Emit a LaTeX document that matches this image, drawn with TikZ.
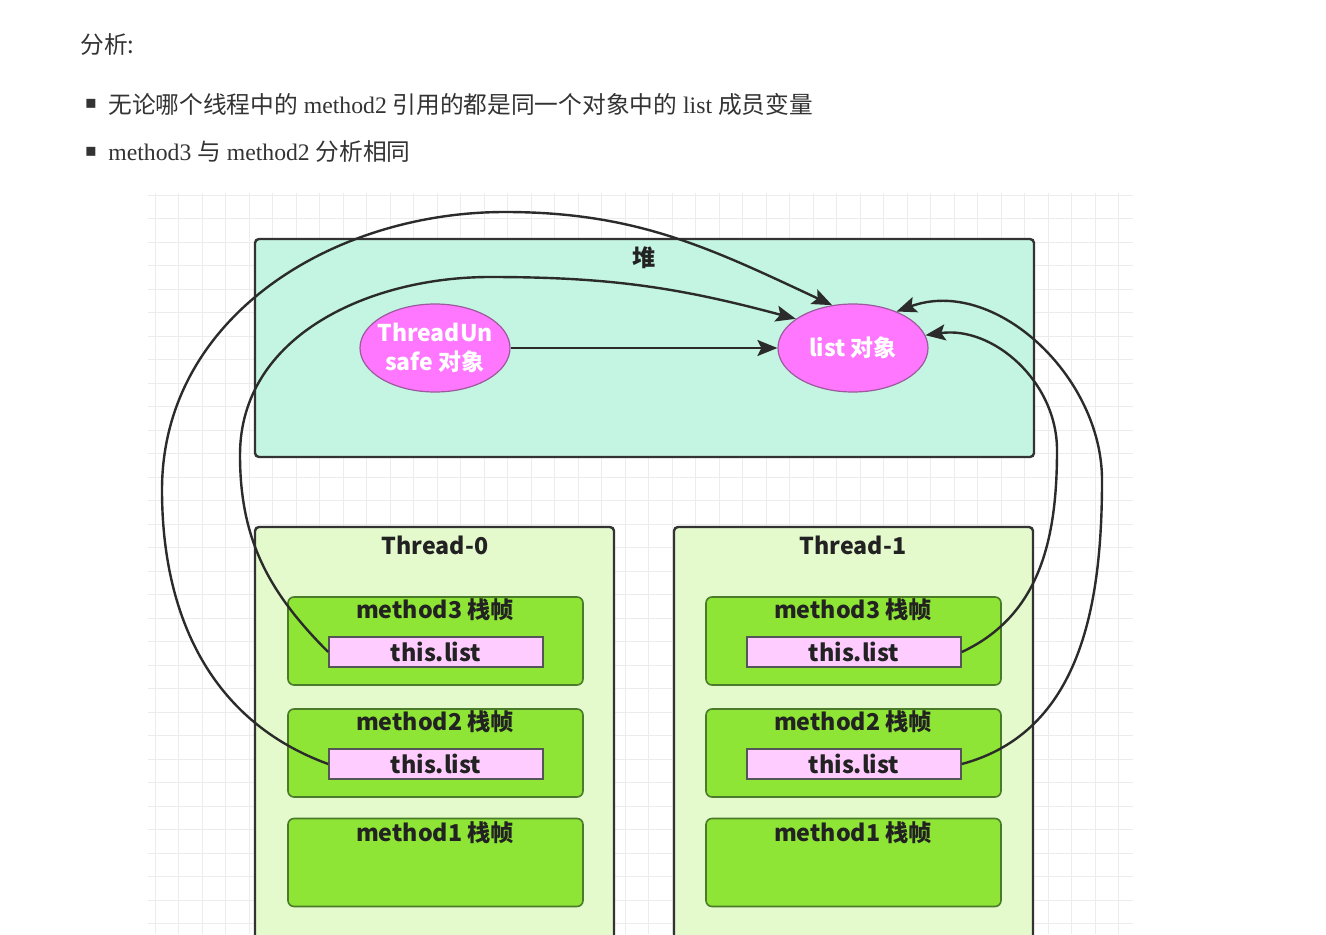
\documentclass[tikz,border=0pt]{standalone}
\usepackage{fontspec}
\setmainfont{Liberation Serif}
\newfontfamily\cjk{Noto Sans CJK SC}
\newfontfamily\symfont{DejaVu Sans}
\usetikzlibrary{positioning, arrows.meta, shapes.geometric}

\definecolor{linegray}{HTML}{2B2B2B}
\definecolor{gridgray}{HTML}{ECECEC}
\definecolor{boxline}{HTML}{333333}
\definecolor{heapfill}{HTML}{C4F5E2}
\definecolor{threadfill}{HTML}{E4F9CC}
\definecolor{framefill}{HTML}{8EE535}
\definecolor{frameline}{HTML}{4A7A2A}
\definecolor{fieldfill}{HTML}{FFCCFF}
\definecolor{fieldline}{HTML}{555555}
\definecolor{objfill}{HTML}{FF77FF}
\definecolor{objline}{HTML}{9B5A9B}
\definecolor{labeltext}{HTML}{222222}
\definecolor{headtext}{HTML}{333333}

\begin{document}
\begin{tikzpicture}[
    x=0.5pt, y=0.5pt,
    >={Stealth[length=10pt, width=8pt, inset=2pt]},
    ref/.style={->, line width=1.2pt, draw=linegray},
    gridline/.style={draw=gridgray, line width=0.5pt},
    header/.style={font=\fontsize{11.85}{14}\selectfont, text=headtext, inner sep=0pt},
    bullet/.style={font=\symfont\fontsize{9}{10}\selectfont, text=headtext, inner sep=0pt},
    heapbox/.style={rectangle, rounded corners=2pt, draw=boxline, line width=1.2pt,
        fill=heapfill, minimum width=389.5pt, minimum height=109pt},
    threadbox/.style={rectangle, rounded corners=2pt, draw=boxline, line width=1.2pt,
        fill=threadfill, minimum width=179.5pt, minimum height=211.5pt},
    framebox/.style={rectangle, rounded corners=3pt, draw=frameline, line width=0.8pt,
        fill=framefill, minimum width=147.5pt, minimum height=44pt},
    fieldbox/.style={rectangle, draw=fieldline, line width=0.8pt, fill=fieldfill,
        minimum width=107pt, minimum height=15pt, inner sep=0pt, text=labeltext,
        font=\cjk\bfseries\fontsize{11.7}{14}\selectfont},
    objnode/.style={ellipse, draw=objline, line width=0.6pt, fill=objfill,
        minimum width=75pt, minimum height=44pt, inner sep=-3.5pt, align=center,
        text=white, font=\cjk\bfseries\fontsize{11.5}{14.5}\selectfont},
    title/.style={inner sep=0pt, text=labeltext, font=\cjk\bfseries\fontsize{11.6}{14}\selectfont}
]

% Page and grid
\useasboundingbox (0,0) rectangle (1326,934);
\clip (0,0) rectangle (1326,934);
\fill[white] (0,0) rectangle (1326,934);
\foreach \gx in {0,...,41}
    \draw[gridline] (155+23.5*\gx, 0) -- (155+23.5*\gx, 741);
\foreach \gy in {0,...,31}
    \draw[gridline] (148, 739-23.5*\gy) -- (1133, 739-23.5*\gy);

% Notes above the diagram
\node[header, anchor=west] (head) at (80,889) {{\cjk 分析:}};
\node[bullet] (b1) at (91,830) {▪};
\node[header, anchor=west] (note1) at (108,830)
    {{\cjk 无论哪个线程中的} method2 {\cjk 引用的都是同一个对象中的} list {\cjk 成员变量}};
\node[bullet] (b2) at (91,782) {▪};
\node[header, anchor=west] (note2) at (108,782) {method3 {\cjk 与} method2 {\cjk 分析相同}};

% Heap
\node[heapbox] (heap) at (644.5,586) {};
\node[title] (heaptitle) at (644,676) {堆};
\node[objnode] (tu) at (435,586) {ThreadUn\\safe 对象};
\node[objnode] (list) at (853,586) {list 对象};
\draw[ref] (tu) -- (list);

% Thread-0 stack
\node[threadbox] (t0) at (434.5,195.5) {};
\node[title] (t0title) at (435,389) {Thread-0};
\node[framebox] (f03) at (435.5,293) {};
\node[title] (f03title) at (435,324) {method3 栈帧};
\node[fieldbox] (l03) at (436,282) {this.list};
\node[framebox] (f02) at (435.5,181) {};
\node[title] (f02title) at (435,212) {method2 栈帧};
\node[fieldbox] (l02) at (436,170) {this.list};
\node[framebox] (f01) at (435.5,71.5) {};
\node[title] (f01title) at (435,101) {method1 栈帧};

% Thread-1 stack
\node[threadbox] (t1) at (853.5,195.5) {};
\node[title] (t1title) at (853,389) {Thread-1};
\node[framebox] (f13) at (853.5,293) {};
\node[title] (f13title) at (853,324) {method3 栈帧};
\node[fieldbox] (l13) at (854,282) {this.list};
\node[framebox] (f12) at (853.5,181) {};
\node[title] (f12title) at (853,212) {method2 栈帧};
\node[fieldbox] (l12) at (854,170) {this.list};
\node[framebox] (f11) at (853.5,71.5) {};
\node[title] (f11title) at (853,101) {method1 栈帧};

% Waypoints of the references
\coordinate (w03a) at (240,479);
\coordinate (w03b) at (490,657);
\coordinate (w02a) at (162,444);
\coordinate (w02b) at (505,722);
\coordinate (w13a) at (1057,484);
\coordinate (w12a) at (1102,454);

% this.list -> list object
\draw[ref] (l03.west) to[out=135, in=-90] (w03a) to[out=90, in=180] (w03b) to[out=0, in=165] (list.153);
\draw[ref] (l02.west) to[out=160, in=-90] (w02a) to[out=90, in=180] (w02b) to[out=0, in=155] (list.116);
\draw[ref] (l13.east) to[out=25, in=-90] (w13a) to[out=90, in=8] (list.10);
\draw[ref] (l12.east) to[out=15, in=-90] (w12a) to[out=90, in=20] (list.40);

\end{tikzpicture}
\end{document}
